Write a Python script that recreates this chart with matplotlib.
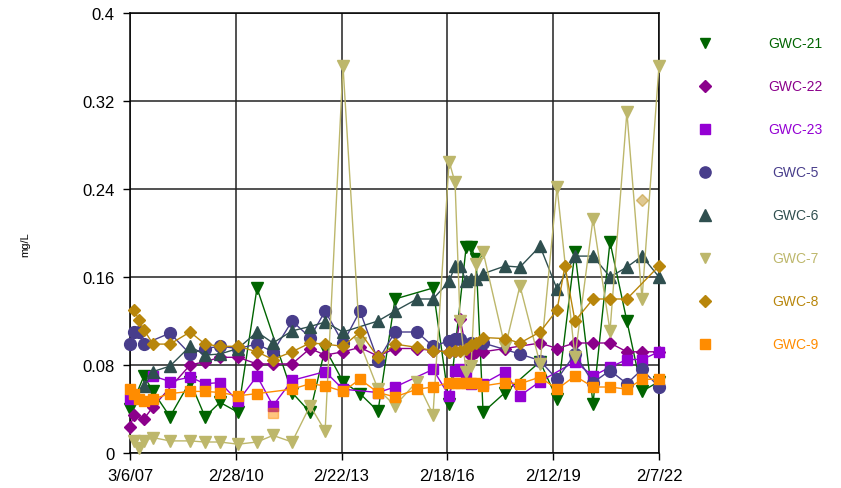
import numpy as np
import pandas as pd
import matplotlib
matplotlib.use('Agg')
import matplotlib.pyplot as plt
from matplotlib.lines import Line2D

plt.rcParams['font.family'] = ['Liberation Sans', 'DejaVu Sans']

nan = np.nan

dates = ['2007-03-06', '2007-04-16', '2007-06-07', '2007-07-28', '2007-10-29',
         '2008-04-21', '2008-11-14', '2009-04-17', '2009-09-19', '2010-03-23',
         '2010-10-05', '2011-03-19', '2011-10-01', '2012-04-04', '2012-09-06',
         '2013-03-09', '2013-08-31', '2014-03-05', '2014-08-27', '2015-04-11',
         '2015-09-23', '2016-03-07', '2016-05-07', '2016-06-28', '2016-08-29',
         '2016-10-19', '2016-12-10', '2017-02-20', '2017-10-05', '2018-03-07',
         '2018-09-30', '2019-03-24', '2019-06-14', '2019-09-25', '2020-03-29',
         '2020-09-20', '2021-03-13', '2021-08-16', '2022-02-07']

gwc21 = [0.040, nan, nan, 0.070, 0.056, 0.033, 0.065, 0.033, 0.046, 0.037,
         0.150, nan, 0.055, 0.037, 0.095, 0.065, 0.054, 0.038, 0.140, nan,
         0.150, 0.045, nan, nan, 0.187, 0.187, 0.176, 0.037, 0.055, nan,
         0.083, 0.049, nan, 0.183, 0.045, 0.192, 0.120, 0.056, 0.065]
gwc22 = [0.024, 0.035, nan, 0.031, 0.042, nan, 0.080, 0.083, 0.087, 0.087,
         0.081, 0.081, 0.081, 0.095, 0.089, 0.092, 0.096, 0.088, 0.095, 0.095,
         0.093, 0.092, 0.093, 0.122, 0.095, 0.088, 0.092, 0.092, 0.095, nan,
         0.100, 0.095, nan, 0.100, 0.100, 0.100, 0.092, 0.092, 0.092]
gwc23 = [0.049, nan, nan, nan, 0.070, 0.065, 0.069, 0.063, 0.064, 0.047,
         0.070, 0.043, 0.066, nan, 0.074, 0.058, nan, 0.055, 0.060, nan,
         0.076, 0.052, 0.075, 0.076, 0.072, 0.063, nan, 0.063, 0.074, 0.052,
         0.065, nan, nan, 0.083, 0.070, 0.078, 0.085, 0.085, 0.092]
gwc5 = [0.099, 0.110, 0.110, 0.099, nan, 0.109, 0.090, 0.095, 0.097, 0.095,
        0.099, 0.092, 0.120, 0.105, 0.129, 0.100, 0.129, 0.084, 0.110, 0.110,
        0.097, 0.102, 0.104, 0.104, nan, 0.100, nan, 0.100, nan, 0.090,
        0.084, 0.067, nan, 0.090, 0.064, 0.075, 0.063, 0.076, 0.060]
gwc6 = [nan, nan, nan, 0.061, 0.074, 0.079, 0.097, 0.089, 0.090, 0.095,
        0.110, 0.100, 0.111, 0.115, 0.119, 0.110, nan, 0.120, 0.129, 0.140,
        0.140, 0.156, 0.170, 0.170, 0.156, 0.158, 0.158, 0.163, 0.170, 0.169,
        0.188, 0.149, nan, 0.179, 0.179, 0.160, 0.169, 0.179, 0.160]
gwc7 = [nan, 0.011, 0.005, 0.011, 0.014, 0.011, 0.011, 0.010, 0.010, 0.008,
        0.010, 0.016, 0.010, 0.043, 0.020, 0.352, 0.100, 0.058, 0.043, 0.065,
        0.035, 0.265, 0.246, 0.120, 0.074, 0.079, 0.172, 0.183, 0.096, 0.152,
        0.081, 0.242, nan, 0.087, 0.213, 0.111, 0.310, 0.140, 0.352]
gwc8 = [nan, 0.130, 0.121, 0.112, 0.099, 0.099, 0.110, 0.099, 0.097, 0.097,
        0.092, 0.085, 0.092, 0.100, 0.099, 0.097, 0.110, 0.087, 0.099, 0.096,
        0.093, 0.092, 0.093, 0.093, 0.095, 0.098, 0.100, 0.105, 0.104, 0.100,
        0.110, 0.130, 0.170, 0.120, 0.140, 0.140, 0.140, nan, 0.170]
gwc9 = [0.058, 0.054, 0.049, 0.047, 0.049, 0.054, 0.056, 0.056, 0.055, 0.052,
        0.054, nan, 0.058, 0.063, 0.061, 0.056, 0.067, 0.055, 0.051, 0.058,
        0.060, 0.064, 0.064, 0.064, 0.064, 0.064, 0.064, 0.061, 0.064, 0.063,
        0.069, 0.058, nan, 0.070, 0.060, 0.060, 0.058, 0.067, 0.067]

# non-detect points (lighter markers, not joined by the line)
nd9_date, nd9_val = '2011-03-19', 0.036
nd8_date, nd8_val = '2021-08-16', 0.230

names = ['GWC-21', 'GWC-22', 'GWC-23', 'GWC-5', 'GWC-6', 'GWC-7', 'GWC-8', 'GWC-9']
colors = ['#006400', '#8B008B', '#9400D3', '#483D8B', '#2F4F4F', '#BDB76B', '#B8860B', '#FF8C00']
markers = ['v', 'D', 's', 'o', '^', 'v', 'D', 's']
msizes = [8, 6, 7.5, 8.5, 8.5, 8, 6, 7.5]

df = pd.DataFrame({'GWC-21': gwc21, 'GWC-22': gwc22, 'GWC-23': gwc23, 'GWC-5': gwc5,
                   'GWC-6': gwc6, 'GWC-7': gwc7, 'GWC-8': gwc8, 'GWC-9': gwc9},
                  index=pd.to_datetime(dates))

fig = plt.figure(figsize=(8.41, 4.89), dpi=100)
ax = fig.add_axes([130 / 841, 1 - 454 / 489, 529 / 841, 440 / 489])

for name, c, m, ms in zip(names, colors, markers, msizes):
    s = df[name].dropna()
    ax.plot(s.index, s.values, color=c, lw=1.0, marker=m, ms=ms, mec=c, mfc=c,
            clip_on=False, zorder=3)

ax.plot(pd.to_datetime([nd9_date]), [nd9_val], 's', color='#FF8C00', ms=7.5, alpha=0.5, zorder=3)
ax.plot(pd.to_datetime([nd8_date]), [nd8_val], 'D', color='#B8860B', ms=6, alpha=0.45, zorder=3)

xticks = pd.to_datetime(['2007-03-06', '2010-02-28', '2013-02-22', '2016-02-18', '2019-02-12', '2022-02-07'])
xlabels = ['3/6/07', '2/28/10', '2/22/13', '2/18/16', '2/12/19', '2/7/22']
ax.set_xlim(xticks[0], xticks[-1])
ax.set_xticks(xticks)
ax.set_xticklabels(xlabels, fontsize=12)

yticks = [0, 0.08, 0.16, 0.24, 0.32, 0.4]
ax.set_ylim(0, 0.4)
ax.set_yticks(yticks)
ax.set_yticklabels(['0', '0.08', '0.16', '0.24', '0.32', '0.4'], fontsize=12)
ax.tick_params(direction='out', length=5, width=1, color='black', pad=6)

ax.grid(True, color='#222222', lw=1.1, zorder=0)
ax.set_axisbelow(True)
for sp in ax.spines.values():
    sp.set_color('black')
    sp.set_linewidth(1.1)

fig.text(25 / 841, 1 - 245 / 489, 'mg/L', rotation=90, fontsize=8, ha='center', va='center')

# legend on the right
for i, (name, c, m, ms) in enumerate(zip(names, colors, markers, msizes)):
    y = 1 - (44 + i * 43) / 489
    fig.add_artist(Line2D([705 / 841], [y], transform=fig.transFigure, marker=m,
                          ms=ms * 0.95, color=c, lw=0))
    fig.text(795 / 841, y, name, color=c, fontsize=10, ha='center', va='center')

fig.savefig('out.png', dpi=100)
